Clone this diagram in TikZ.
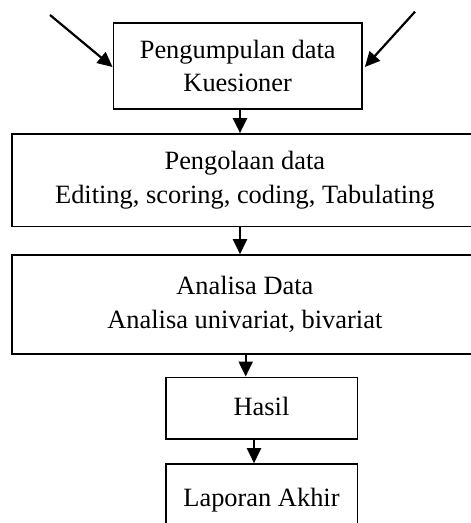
\documentclass[tikz,border=0pt]{standalone}
\usepackage{fontspec}
\setmainfont{Liberation Serif}
\usepackage{tikz}
\usetikzlibrary{arrows.meta}

\tikzset{
  kotak/.style={draw=black,line width=0.8pt,align=center,inner sep=0pt,
    font=\fontsize{13.2}{16.8}\selectfont},
  panah/.style={line width=1.1pt,-{Triangle[length=7.5pt,width=7pt]}}
}

\begin{document}
\begin{tikzpicture}[x=0.5pt,y=-0.5pt]
	\useasboundingbox (0,0) rectangle (470,523);
	\node[kotak,minimum width=124.35pt,minimum height=43.15pt] (kumpul) at (237.7,65.9) {Pengumpulan data\\Kuesioner};
	\node[kotak,minimum width=233.15pt,minimum height=46.35pt] (olah) at (244.85,180.3) {Pengolaan data\\Editing, scoring, coding, Tabulating};
	\node[kotak,minimum width=233.15pt,minimum height=49.5pt] (analisa) at (244.85,304.5) {\raisebox{2pt}{\begin{tabular}{@{}c@{}}Analisa Data\\Analisa univariat, bivariat\end{tabular}}};
	\node[kotak,minimum width=95.8pt,minimum height=30.7pt] (hasil) at (261.5,408) {\raisebox{2pt}{Hasil}};
	\node[kotak,minimum width=95.8pt,minimum height=36pt] (laporan) at (261.5,500) {\raisebox{-1.5pt}{Laporan Akhir}};
	\coordinate (kiri) at (50,15);
	\coordinate (kanan) at (415,11.7);
	\coordinate (x1) at (240,0);
	\coordinate (x2) at (245.7,0);
	\coordinate (x3) at (254,0);
	\draw[panah] (kiri) -- (kumpul.west |- 0,67);
	\draw[panah] (kanan) -- ([xshift=1pt]kumpul.east |- 0,67);
	\draw[panah] (x1 |- kumpul.south) -- (x1 |- olah.north);
	\draw[panah] (x1 |- olah.south) -- (x1 |- analisa.north);
	\draw[panah] (x2 |- analisa.south) -- (x2 |- hasil.north);
	\draw[panah] (x3 |- hasil.south) -- (x3 |- laporan.north);
\end{tikzpicture}
\end{document}
